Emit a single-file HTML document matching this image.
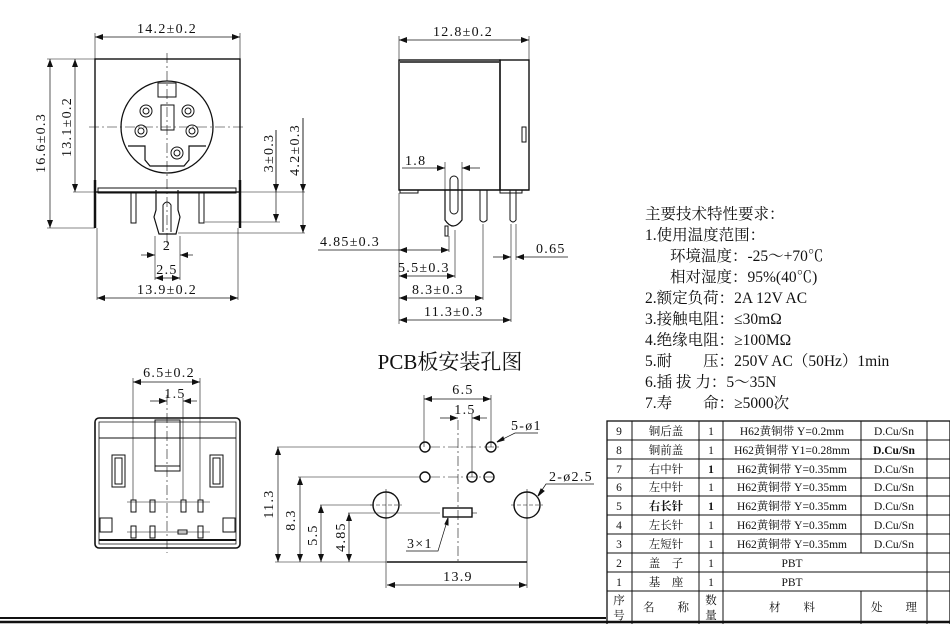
<!DOCTYPE html>
<html><head><meta charset="utf-8"><style>
html,body{margin:0;padding:0;background:#fff;}
svg{display:block;}
text{font-family:"Liberation Serif","Noto Serif CJK SC",serif;fill:#111;}
.s{font-family:"Liberation Serif","Noto Sans CJK SC",serif;}
.d text{letter-spacing:1.3px;}
</style></head><body>
<svg width="950" height="624" viewBox="0 0 950 624" xmlns="http://www.w3.org/2000/svg">
<defs>
<marker id="a" markerWidth="8" markerHeight="6" refX="8" refY="3" orient="auto-start-reverse" markerUnits="userSpaceOnUse"><path d="M0,0 L8,3 L0,6 z" fill="#111"/></marker>
</defs>
<g stroke="#111" fill="none" stroke-width="1">
<!-- FRONT VIEW -->
<line x1="95" y1="33" x2="95" y2="59" stroke-width="0.6"/><line x1="240" y1="33" x2="240" y2="59" stroke-width="0.6"/>
<line x1="95" y1="37" x2="240" y2="37" stroke-width="0.7" marker-start="url(#a)" marker-end="url(#a)"/>
<rect x="95" y="59" width="145" height="133" stroke-width="1.4"/>
<line x1="95" y1="180" x2="95" y2="228" stroke-width="2.5"/><line x1="240" y1="180" x2="240" y2="228" stroke-width="2.5"/>
<circle cx="167" cy="127" r="46" stroke-width="1.3"/>
<path d="M128,146 L145,146 L145,160 L150,166 L184,166 L189,160 L189,146 L206,146" stroke-width="1.2"/>
<rect x="158" y="83" width="18" height="14"/>
<rect x="161" y="105" width="13" height="25"/>
<g stroke-width="1"><circle cx="146" cy="111" r="6"/><circle cx="146" cy="111" r="3"/><circle cx="188" cy="111" r="6"/><circle cx="188" cy="111" r="3"/><circle cx="141" cy="131" r="6"/><circle cx="141" cy="131" r="3"/><circle cx="192" cy="131" r="6"/><circle cx="192" cy="131" r="3"/><circle cx="177" cy="153" r="6"/><circle cx="177" cy="153" r="3"/></g>
<line x1="89" y1="127" x2="245" y2="127" stroke-width="0.6" stroke-dasharray="10,3,2,3"/>
<line x1="167" y1="53" x2="167" y2="250" stroke-width="0.6" stroke-dasharray="10,3,2,3"/>
<rect x="98" y="188" width="138" height="5" stroke-width="1"/>
<rect x="131" y="193" width="5" height="30"/><rect x="199" y="193" width="5" height="30"/>
<path d="M156,190 L156,210 L154,217 L159,234 L176,234 L180,217 L178,210 L178,190" stroke-width="1.2"/>
<path d="M163,232 L163,205 Q167,199 171,205 L171,232"/>
<line x1="47" y1="59" x2="95" y2="59" stroke-width="0.6"/><line x1="47" y1="228" x2="95" y2="228" stroke-width="0.6"/>
<line x1="50" y1="59" x2="50" y2="228" stroke-width="0.7" marker-start="url(#a)" marker-end="url(#a)"/>
<line x1="75" y1="59" x2="75" y2="192" stroke-width="0.7" marker-start="url(#a)" marker-end="url(#a)"/>
<line x1="73" y1="192" x2="305" y2="192" stroke-width="0.6"/>
<line x1="205" y1="222" x2="280" y2="222" stroke-width="0.6"/>
<line x1="178" y1="233" x2="305" y2="233" stroke-width="0.6"/>
<line x1="276" y1="130" x2="276" y2="222" stroke-width="0.7" marker-end="url(#a)"/>
<line x1="276" y1="192" x2="276" y2="130" stroke-width="0.7" marker-start="url(#a)"/>
<line x1="303" y1="118" x2="303" y2="233" stroke-width="0.7" marker-end="url(#a)"/>
<line x1="303" y1="192" x2="303" y2="118" stroke-width="0.7" marker-start="url(#a)"/>
<line x1="155" y1="236" x2="155" y2="280" stroke-width="0.6"/><line x1="180" y1="236" x2="180" y2="280" stroke-width="0.6"/>
<line x1="141" y1="255" x2="155" y2="255" stroke-width="0.7" marker-end="url(#a)"/><line x1="193" y1="255" x2="180" y2="255" stroke-width="0.7" marker-end="url(#a)"/>
<line x1="155" y1="278" x2="180" y2="278" stroke-width="0.7" marker-start="url(#a)" marker-end="url(#a)"/>
<line x1="97" y1="228" x2="97" y2="300" stroke-width="0.6"/><line x1="238" y1="228" x2="238" y2="300" stroke-width="0.6"/>
<line x1="97" y1="298" x2="238" y2="298" stroke-width="0.7" marker-start="url(#a)" marker-end="url(#a)"/>

<!-- SIDE VIEW -->
<line x1="399" y1="36" x2="399" y2="60" stroke-width="0.6"/><line x1="529" y1="36" x2="529" y2="60" stroke-width="0.6"/>
<line x1="399" y1="40" x2="529" y2="40" stroke-width="0.7" marker-start="url(#a)" marker-end="url(#a)"/>
<rect x="399" y="60" width="101" height="130" stroke-width="1.4"/>
<rect x="500" y="60" width="29" height="130" stroke-width="1.4"/>
<line x1="400" y1="62" x2="499" y2="62" stroke-width="1.5"/>
<rect x="522" y="127" width="4" height="15"/>
<line x1="399" y1="190" x2="529" y2="190" stroke-width="1.2"/>
<rect x="400" y="190" width="18" height="3"/><rect x="500" y="190" width="22" height="3"/>
<path d="M445,190 L445,220 Q453,232 462,220 L462,190" stroke-width="1.2"/>
<rect x="450" y="176" width="8" height="38" rx="4"/>
<rect x="445" y="226" width="3" height="10"/>
<path d="M480,190 L480,220 Q483,224 487,220 L487,190"/>
<path d="M510,190 L510,220 Q513,224 516,220 L516,190"/>
<line x1="445" y1="162" x2="445" y2="190" stroke-width="0.6"/><line x1="462" y1="162" x2="462" y2="190" stroke-width="0.6"/>
<line x1="402" y1="168" x2="445" y2="168" stroke-width="0.7" marker-end="url(#a)"/><line x1="480" y1="168" x2="462" y2="168" stroke-width="0.7" marker-end="url(#a)"/>
<line x1="399" y1="193" x2="399" y2="324" stroke-width="0.6"/>
<line x1="449" y1="236" x2="449" y2="252" stroke-width="0.6"/>
<line x1="455" y1="230" x2="455" y2="278" stroke-width="0.6"/>
<line x1="483" y1="224" x2="483" y2="300" stroke-width="0.6"/>
<line x1="511" y1="224" x2="511" y2="322" stroke-width="0.6"/><line x1="516" y1="224" x2="516" y2="260" stroke-width="0.6"/>
<line x1="318" y1="250" x2="399" y2="250" stroke-width="0.7"/>
<line x1="399" y1="250" x2="449" y2="250" stroke-width="0.7" marker-start="url(#a)" marker-end="url(#a)"/>
<line x1="399" y1="276" x2="455" y2="276" stroke-width="0.7" marker-start="url(#a)" marker-end="url(#a)"/>
<line x1="399" y1="298" x2="483" y2="298" stroke-width="0.7" marker-start="url(#a)" marker-end="url(#a)"/>
<line x1="399" y1="320" x2="511" y2="320" stroke-width="0.7" marker-start="url(#a)" marker-end="url(#a)"/>
<line x1="493" y1="257" x2="511" y2="257" stroke-width="0.7" marker-end="url(#a)"/><line x1="568" y1="257" x2="516" y2="257" stroke-width="0.7" marker-end="url(#a)"/>

<!-- BOTTOM FRONT VIEW -->
<line x1="133" y1="378" x2="133" y2="500" stroke-width="0.6"/><line x1="200" y1="378" x2="200" y2="500" stroke-width="0.6"/>
<line x1="183" y1="398" x2="183" y2="500" stroke-width="0.6"/>
<line x1="133" y1="382" x2="200" y2="382" stroke-width="0.7" marker-start="url(#a)" marker-end="url(#a)"/>
<line x1="150" y1="401" x2="167" y2="401" stroke-width="0.7" marker-end="url(#a)"/><line x1="197" y1="401" x2="183" y2="401" stroke-width="0.7" marker-end="url(#a)"/>
<rect x="95" y="418" width="145" height="130" rx="4" stroke-width="1.6"/>
<path d="M99,422 L236,422 L236,544 L99,544 Z" stroke-width="0.8"/>
<line x1="99" y1="438" x2="236" y2="438"/>
<line x1="99" y1="540" x2="236" y2="540" stroke-width="2"/>
<rect x="155" y="420" width="25" height="46"/><rect x="155" y="466" width="25" height="5"/>
<rect x="112" y="455" width="13" height="32"/><rect x="115" y="458" width="7" height="26"/>
<rect x="210" y="455" width="13" height="32"/><rect x="213" y="458" width="7" height="26"/>
<rect x="100" y="518" width="12" height="14"/><rect x="223" y="518" width="12" height="14"/>
<g stroke-width="1"><rect x="131" y="500" width="5" height="12"/><rect x="150" y="500" width="5" height="12"/><rect x="181" y="500" width="5" height="12"/><rect x="198" y="500" width="5" height="12"/>
<rect x="131" y="526" width="5" height="12"/><rect x="150" y="526" width="5" height="12"/><rect x="178" y="530" width="9" height="4"/><rect x="198" y="526" width="5" height="12"/></g>
<line x1="127" y1="502" x2="210" y2="502" stroke-width="0.5"/><line x1="127" y1="532" x2="210" y2="532" stroke-width="0.5"/>
<line x1="167" y1="395" x2="167" y2="553" stroke-width="0.6" stroke-dasharray="10,3,2,3"/>

<!-- PCB -->
<line x1="424" y1="395" x2="424" y2="447" stroke-width="0.6"/><line x1="491" y1="395" x2="491" y2="447" stroke-width="0.6"/>
<line x1="472" y1="414" x2="472" y2="477" stroke-width="0.6"/>
<line x1="424" y1="399" x2="491" y2="399" stroke-width="0.7" marker-start="url(#a)" marker-end="url(#a)"/>
<line x1="440" y1="418" x2="458" y2="418" stroke-width="0.7" marker-end="url(#a)"/><line x1="487" y1="418" x2="472" y2="418" stroke-width="0.7" marker-end="url(#a)"/>
<line x1="458" y1="420" x2="458" y2="564" stroke-width="0.6" stroke-dasharray="10,3,2,3"/>
<line x1="277" y1="447" x2="420" y2="447" stroke-width="0.6"/><line x1="430" y1="447" x2="500" y2="447" stroke-width="0.6" stroke-dasharray="10,3,2,3"/>
<line x1="298" y1="477" x2="420" y2="477" stroke-width="0.6"/><line x1="430" y1="477" x2="495" y2="477" stroke-width="0.6" stroke-dasharray="10,3,2,3"/>
<line x1="320" y1="505" x2="372" y2="505" stroke-width="0.6"/>
<line x1="348" y1="513" x2="440" y2="513" stroke-width="0.6"/><line x1="472" y1="513" x2="477" y2="513" stroke-width="0.6"/>
<g stroke-width="1.4"><circle cx="425" cy="447" r="5"/><circle cx="491" cy="447" r="5"/><circle cx="425" cy="477" r="5"/><circle cx="472" cy="477" r="5"/><circle cx="489" cy="477" r="5"/>
<circle cx="386" cy="505" r="13"/><circle cx="527" cy="505" r="13"/><rect x="443" y="508" width="29" height="9"/></g>
<line x1="370" y1="505" x2="402" y2="505" stroke-width="0.5" stroke-dasharray="4,2"/><line x1="511" y1="505" x2="543" y2="505" stroke-width="0.5" stroke-dasharray="4,2"/>
<line x1="386" y1="489" x2="386" y2="588" stroke-width="0.6"/><line x1="527" y1="489" x2="527" y2="588" stroke-width="0.6"/>
<line x1="275" y1="562" x2="387" y2="562" stroke-width="0.6"/><line x1="387" y1="562" x2="527" y2="562" stroke-width="1.5"/>
<line x1="278" y1="447" x2="278" y2="562" stroke-width="0.7" marker-start="url(#a)" marker-end="url(#a)"/>
<line x1="300" y1="477" x2="300" y2="562" stroke-width="0.7" marker-start="url(#a)" marker-end="url(#a)"/>
<line x1="321" y1="505" x2="321" y2="562" stroke-width="0.7" marker-start="url(#a)" marker-end="url(#a)"/>
<line x1="349" y1="513" x2="349" y2="562" stroke-width="0.7" marker-start="url(#a)" marker-end="url(#a)"/>
<line x1="387" y1="585" x2="527" y2="585" stroke-width="0.7" marker-start="url(#a)" marker-end="url(#a)"/>
<polyline points="538,433 515,433 497,442" stroke-width="0.7"/><path d="M497,442 l6,-5 l1,3 z" fill="#111"/>
<polyline points="594,484 546,484 538,496" stroke-width="0.7"/><path d="M538,496 l3,-7 l3,2 z" fill="#111"/>
<polyline points="406,551 438,551 448,518" stroke-width="0.7"/><path d="M448,518 l0,7 l-3,-1 z" fill="#111"/>
<line x1="0" y1="618" x2="606" y2="618" stroke-width="2"/>

<!-- TABLE -->
<g stroke-width="1">
<rect x="607" y="421" width="343" height="210" stroke-width="1.3"/>
<line x1="632" y1="421" x2="632" y2="624"/><line x1="699" y1="421" x2="699" y2="624"/><line x1="723" y1="421" x2="723" y2="624"/><line x1="861" y1="421" x2="861" y2="553"/><line x1="861" y1="591" x2="861" y2="624"/><line x1="927" y1="421" x2="927" y2="624"/>
<line x1="607" y1="440" x2="950" y2="440"/><line x1="607" y1="459" x2="950" y2="459"/><line x1="607" y1="478" x2="950" y2="478"/><line x1="607" y1="496" x2="950" y2="496"/><line x1="607" y1="515" x2="950" y2="515"/><line x1="607" y1="534" x2="950" y2="534"/><line x1="607" y1="553" x2="950" y2="553"/><line x1="607" y1="572" x2="950" y2="572"/><line x1="607" y1="591" x2="950" y2="591"/>
</g>
</g>
<line x1="0" y1="622" x2="950" y2="622" stroke="#111" stroke-width="2.5"/>

<g font-size="14" class="d">
<text x="167" y="33" text-anchor="middle">14.2±0.2</text>
<text transform="translate(45,143) rotate(-90)" text-anchor="middle">16.6±0.3</text>
<text transform="translate(71,127) rotate(-90)" text-anchor="middle">13.1±0.2</text>
<text transform="translate(273,153) rotate(-90)" text-anchor="middle">3±0.3</text>
<text transform="translate(299,150) rotate(-90)" text-anchor="middle">4.2±0.3</text>
<text x="167" y="250" text-anchor="middle">2</text>
<text x="167" y="274" text-anchor="middle">2.5</text>
<text x="167" y="294" text-anchor="middle">13.9±0.2</text>
<text x="463" y="36" text-anchor="middle">12.8±0.2</text>
<text x="405" y="165">1.8</text>
<text x="320" y="246">4.85±0.3</text>
<text x="398" y="272">5.5±0.3</text>
<text x="412" y="294">8.3±0.3</text>
<text x="424" y="316">11.3±0.3</text>
<text x="536" y="253">0.65</text>
<text x="169" y="377" text-anchor="middle">6.5±0.2</text>
<text x="175" y="398" text-anchor="middle">1.5</text>
<text x="463" y="394" text-anchor="middle">6.5</text>
<text x="465" y="414" text-anchor="middle">1.5</text>
<text x="511" y="430">5-ø1</text>
<text x="549" y="481">2-ø2.5</text>
<text x="407" y="548">3×1</text>
<text x="458" y="581" text-anchor="middle">13.9</text>
<text transform="translate(273,504) rotate(-90)" text-anchor="middle">11.3</text>
<text transform="translate(295,520) rotate(-90)" text-anchor="middle">8.3</text>
<text transform="translate(317,535) rotate(-90)" text-anchor="middle">5.5</text>
<text transform="translate(345,537) rotate(-90)" text-anchor="middle">4.85</text>
</g>
<text x="450" y="369" text-anchor="middle" font-size="21">PCB板安装孔图</text>

<g font-size="15.5" class="s">
<text x="645" y="219">主要技术特性要求：</text>
<text x="645" y="240">1.使用温度范围：</text>
<text x="670" y="261">环境温度：-25～+70℃</text>
<text x="670" y="282">相对湿度：95%(40℃)</text>
<text x="645" y="303">2.额定负荷：2A 12V AC</text>
<text x="645" y="324">3.接触电阻：≤30mΩ</text>
<text x="645" y="345">4.绝缘电阻：≥100MΩ</text>
<text x="645" y="366">5.耐　　压：250V AC（50Hz）1min</text>
<text x="645" y="387">6.插 拔 力：5～35N</text>
<text x="645" y="408">7.寿　　命：≥5000次</text>
</g>

<g font-size="11.5" class="s" text-anchor="middle">
<text x="619" y="435">9</text><text x="666" y="435">铜后盖</text><text x="711" y="435">1</text><text x="792" y="435">H62黄铜带 Y=0.2mm</text><text x="894" y="435">D.Cu/Sn</text>
<text x="619" y="454">8</text><text x="666" y="454">铜前盖</text><text x="711" y="454">1</text><text x="792" y="454">H62黄铜带 Y1=0.28mm</text><text x="894" y="454" font-weight="bold">D.Cu/Sn</text>
<text x="619" y="473">7</text><text x="666" y="473">右中针</text><text x="711" y="473" font-weight="bold">1</text><text x="792" y="473">H62黄铜带 Y=0.35mm</text><text x="894" y="473">D.Cu/Sn</text>
<text x="619" y="491">6</text><text x="666" y="491">左中针</text><text x="711" y="491">1</text><text x="792" y="491">H62黄铜带 Y=0.35mm</text><text x="894" y="491">D.Cu/Sn</text>
<text x="619" y="510">5</text><text x="666" y="510" font-weight="bold">右长针</text><text x="711" y="510" font-weight="bold">1</text><text x="792" y="510">H62黄铜带 Y=0.35mm</text><text x="894" y="510">D.Cu/Sn</text>
<text x="619" y="529">4</text><text x="666" y="529">左长针</text><text x="711" y="529">1</text><text x="792" y="529">H62黄铜带 Y=0.35mm</text><text x="894" y="529">D.Cu/Sn</text>
<text x="619" y="548">3</text><text x="666" y="548">左短针</text><text x="711" y="548">1</text><text x="792" y="548">H62黄铜带 Y=0.35mm</text><text x="894" y="548">D.Cu/Sn</text>
<text x="619" y="567">2</text><text x="666" y="567">盖　子</text><text x="711" y="567">1</text><text x="792" y="567">PBT</text>
<text x="619" y="586">1</text><text x="666" y="586">基　座</text><text x="711" y="586">1</text><text x="792" y="586">PBT</text>
<text x="619" y="604">序</text><text x="619" y="619">号</text><text x="666" y="611">名　　称</text><text x="711" y="604">数</text><text x="711" y="619">量</text><text x="792" y="611">材　　料</text><text x="894" y="611">处　　理</text>
</g>
</svg>
</body></html>
